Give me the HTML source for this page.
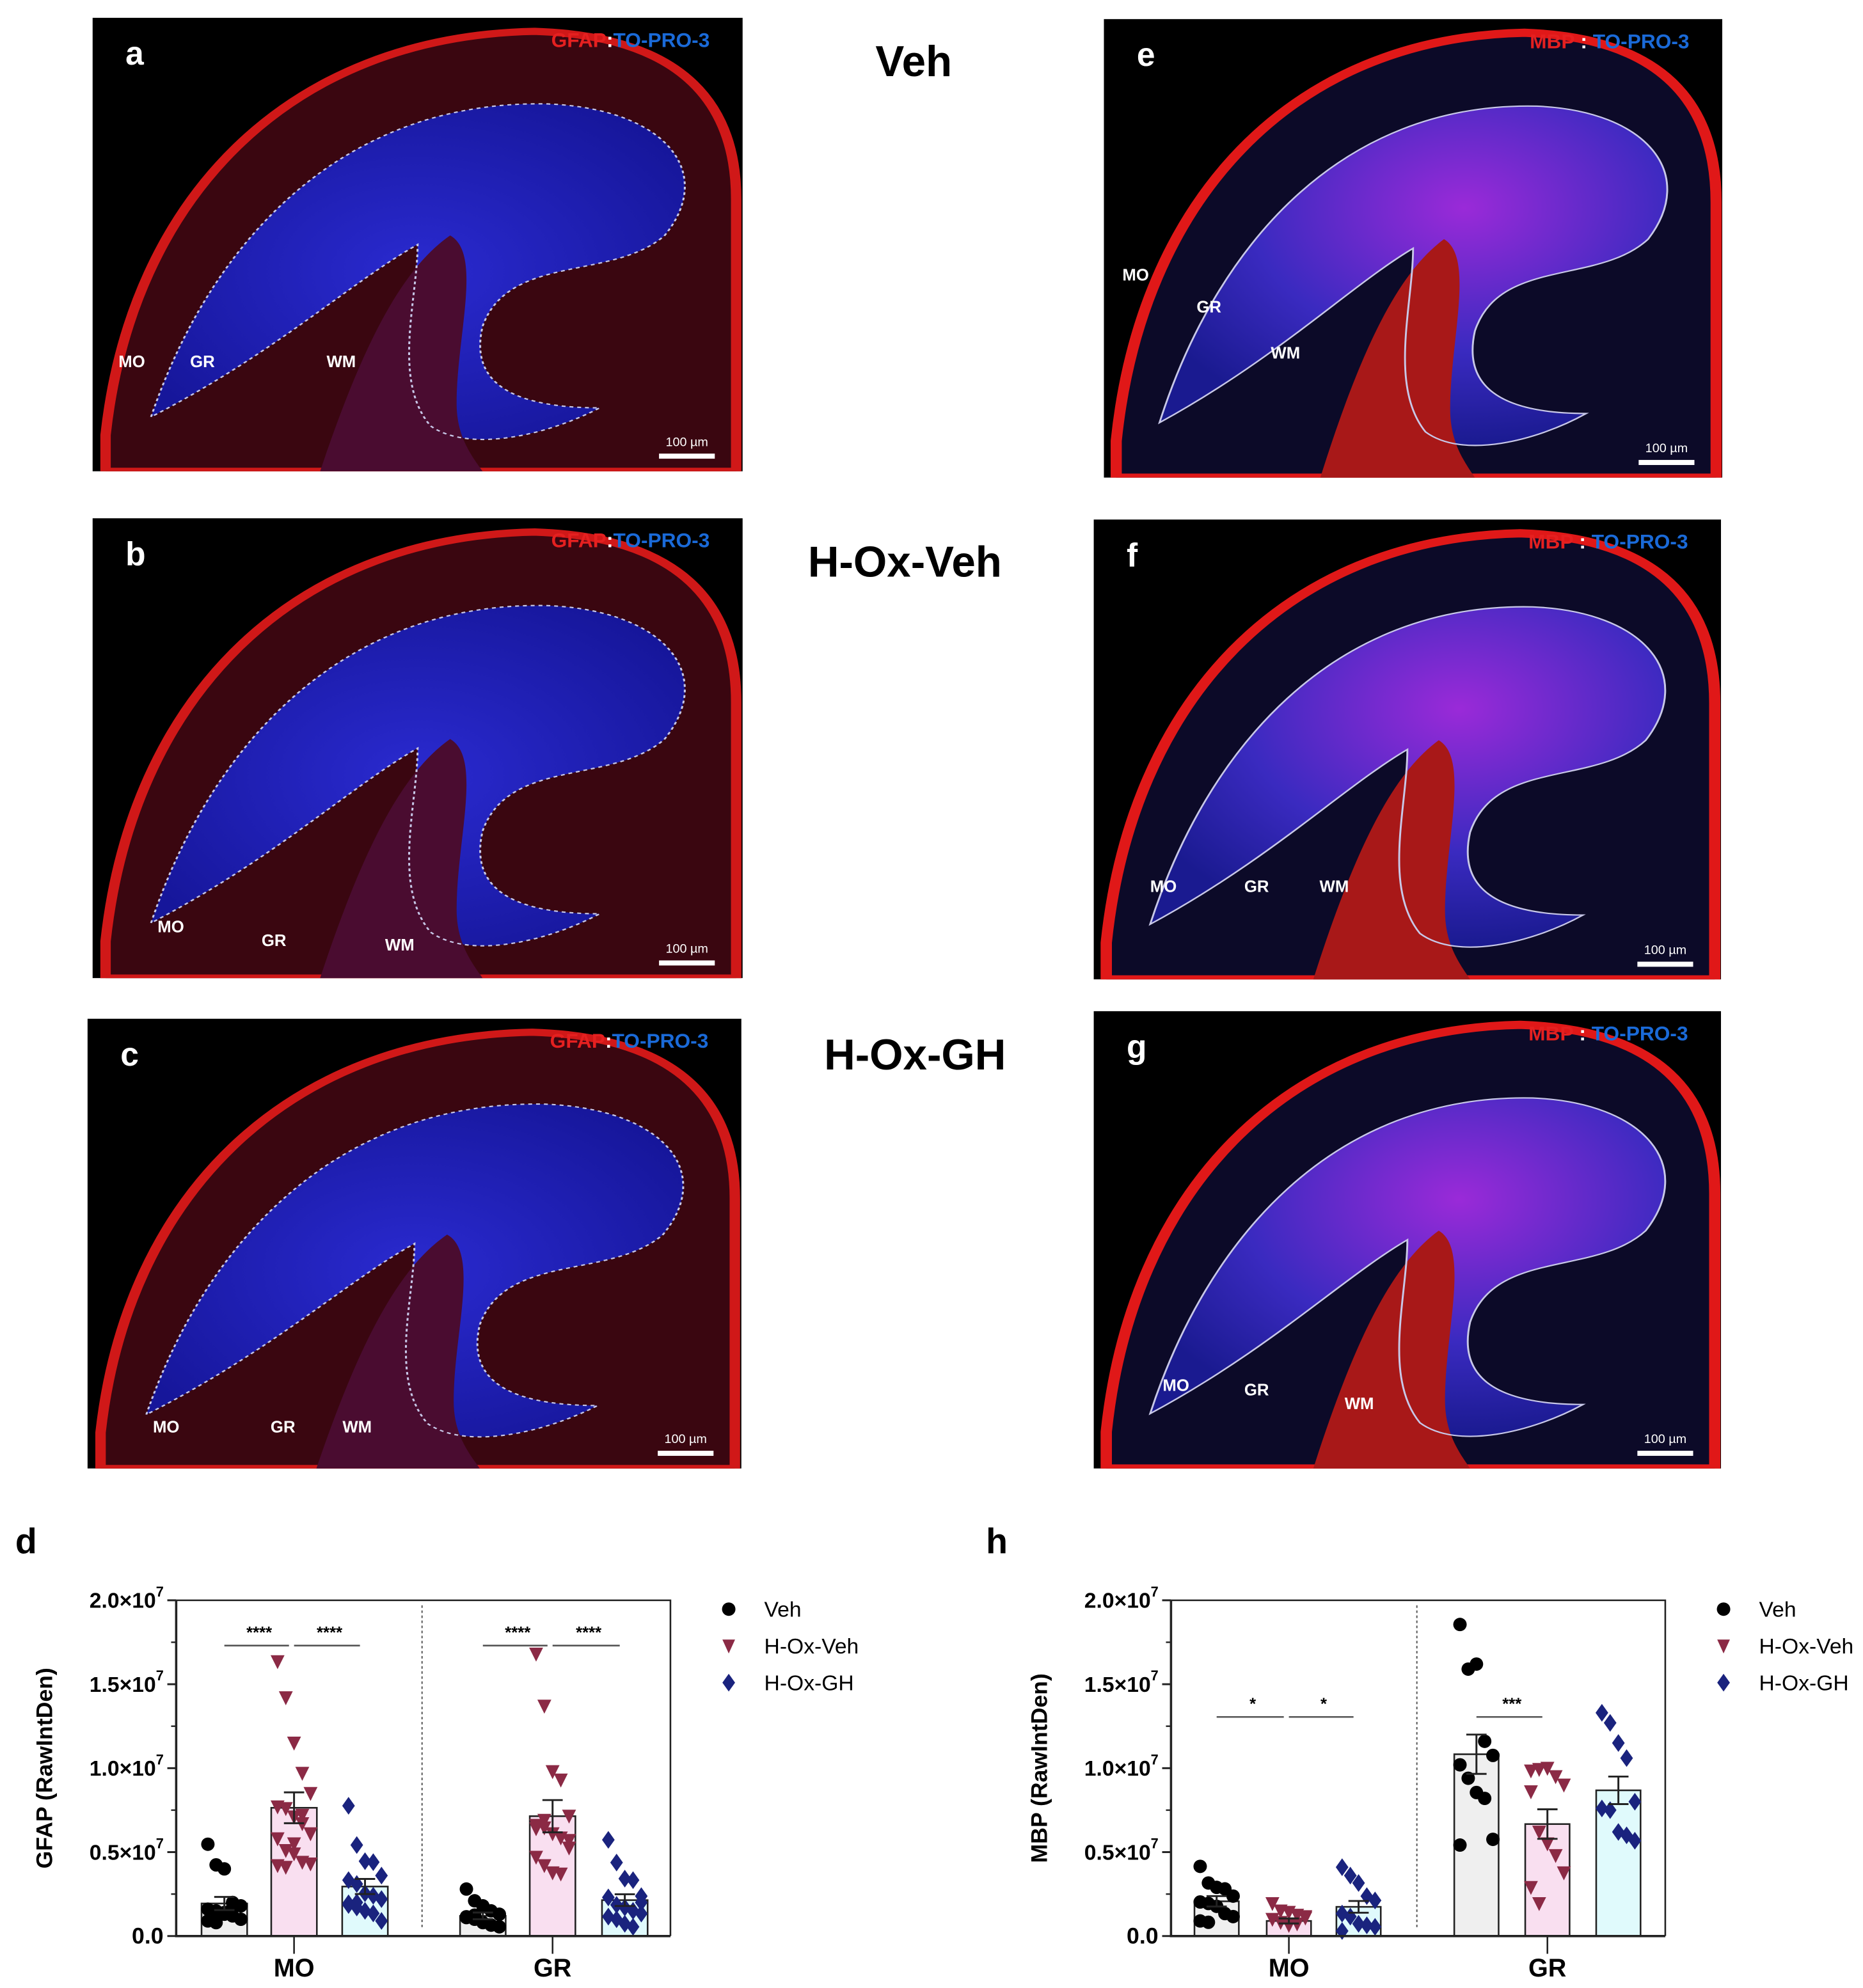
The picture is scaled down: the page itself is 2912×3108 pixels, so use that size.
<!DOCTYPE html>
<html><head><meta charset="utf-8"><style>
html,body{margin:0;padding:0;background:#fff}
svg{display:block}
text{font-family:"Liberation Sans",Arial,sans-serif}
</style></head><body>
<svg id="fig" xmlns="http://www.w3.org/2000/svg" width="2912" height="3108" viewBox="0 0 1470 1569">
<defs>
<radialGradient id="gfapBlue" cx="50%" cy="50%" r="60%"><stop offset="0" stop-color="#2a2ad0"/><stop offset="1" stop-color="#16169a"/></radialGradient>
<radialGradient id="mbpIn" cx="60%" cy="30%" r="70%"><stop offset="0" stop-color="#9a2ad8"/><stop offset="0.6" stop-color="#3a2ac0"/><stop offset="1" stop-color="#1a1a90"/></radialGradient>
</defs>
<g id="panels"></g>
<text x="721" y="60" font-size="34" font-weight="bold" text-anchor="middle">Veh</text>
<text x="714" y="455" font-size="34" font-weight="bold" text-anchor="middle">H-Ox-Veh</text>
<text x="722" y="844" font-size="34" font-weight="bold" text-anchor="middle">H-Ox-GH</text>
<text x="12" y="1226" font-size="28" font-weight="bold">d</text>
<text x="778" y="1226" font-size="28" font-weight="bold">h</text>
<g id="chartD"></g>
<g id="chartH"></g>
</svg>
<script>
// ---- chart data (units of 1e6 RawIntDen) ----
const groups = ["MO", "GR"];
const seriesNames = ["Veh", "H-Ox-Veh", "H-Ox-GH"];
const yTicks = [0, 5, 10, 15, 20];
const yTickLabels = ["0.0", "0.5×10", "1.0×10", "1.5×10", "2.0×10"];
const gfapMeans = [[1.94, 7.64, 2.95], [1.2, 7.14, 2.14]];
const gfapSem = [[0.39, 0.92, 0.45], [0.2, 0.96, 0.35]];
const gfapMOVeh = [5.47, 4.24, 4.0, 2.0, 1.8, 1.6, 1.5, 1.4, 1.2, 1.0, 0.9, 0.8, 1.3, 1.7];
const gfapMOHov = [16.35, 14.2, 11.5, 9.7, 8.5, 7.7, 7.6, 7.1, 6.7, 6.1, 5.8, 5.1, 4.9, 4.4, 4.3, 4.2, 4.1, 5.5, 7.2];
const gfapMOGh = [7.76, 5.42, 4.46, 4.4, 3.6, 3.33, 3.1, 2.55, 2.4, 2.2, 1.95, 1.7, 1.5, 1.35, 0.9, 1.85, 2.0];
const gfapGRVeh = [2.8, 2.1, 1.8, 1.5, 1.3, 1.15, 1.0, 0.8, 0.65, 0.55, 1.1, 1.25];
const gfapGRHov = [16.8, 13.7, 9.8, 9.3, 7.15, 6.6, 6.45, 6.1, 5.85, 5.25, 4.7, 4.2, 3.77, 3.7, 5.7, 6.4, 6.9];
const gfapGRGh = [5.73, 4.38, 3.42, 3.33, 2.38, 2.3, 1.86, 1.7, 1.5, 1.34, 1.16, 1.0, 0.73, 0.55, 2.0];
const mbpMeans = [[2.07, 0.9, 1.74], [10.83, 6.67, 8.68]];
const mbpSem = [[0.31, 0.15, 0.35], [1.17, 0.88, 0.82]];
const mbpMOVeh = [4.15, 3.16, 2.9, 2.81, 2.38, 2.03, 1.94, 1.77, 1.34, 1.16, 0.9, 0.82];
const mbpMOHov = [1.94, 1.5, 1.42, 1.25, 1.08, 1.0, 0.82, 0.64, 0.73, 1.16];
const mbpMOGh = [4.1, 3.6, 3.16, 2.38, 2.12, 1.34, 1.16, 0.73, 0.64, 0.55, 0.3];
const mbpGRVeh = [18.56, 15.9, 16.2, 11.6, 10.76, 10.2, 9.4, 8.55, 8.2, 5.76, 5.42];
const mbpGRHov = [9.84, 9.93, 10.0, 9.5, 9.0, 8.6, 6.2, 5.5, 4.8, 3.77, 2.9, 1.94];
const mbpGRGh = [13.3, 12.7, 11.5, 10.6, 8.0, 7.6, 7.5, 6.2, 6.0, 5.68];
const gfapSig = [["MO", 0, 1, "****", 17.3], ["MO", 1, 2, "****", 17.3], ["GR", 0, 1, "****", 17.3], ["GR", 1, 2, "****", 17.3]];
const mbpSig = [["MO", 0, 1, "*", 13.05], ["MO", 1, 2, "*", 13.05], ["GR", 0, 1, "***", 13.05]];

const NS = "http://www.w3.org/2000/svg";
function mk(parent, tag, attrs, txt) {
  const e = document.createElementNS(NS, tag);
  for (const k in attrs) e.setAttribute(k, attrs[k]);
  if (txt !== undefined) e.textContent = txt;
  parent.appendChild(e);
  return e;
}
const fills = ["#efefef", "#f9dff0", "#e0fafc"];
const mcol = ["#000", "#8b2a45", "#1a237e"];

function drawChart(g, cfg) {
  const y = v => cfg.bottom - (v / 20) * (cfg.bottom - cfg.top);
  const barX = (gi, si) => cfg.barCenters[gi][si];
  cfg.means.forEach((row, gi) => row.forEach((m, si) => {
    const cx = barX(gi, si);
    const r = mk(g, "rect", {x: cx - cfg.bw / 2, y: y(m), width: cfg.bw, height: y(0) - y(m), fill: fills[si], stroke: "#222", "stroke-width": 1.3});
    
    
  }));
  cfg.points.forEach((row, gi) => row.forEach((pts, si) => {
    const cx = barX(gi, si);
    pts.forEach((v, i) => {
      const off = ((i % 5) - 2) * 6.5;
      const px = cx + off, py = y(v);
      let el;
      if (si === 0) el = mk(g, "circle", {cx: px, cy: py, r: 5.3, fill: mcol[0]});
      else if (si === 1) el = mk(g, "path", {d: `M${px-5.5},${py-5} L${px+5.5},${py-5} L${px},${py+6}Z`, fill: mcol[1]});
      else el = mk(g, "path", {d: `M${px},${py-7} L${px+5},${py} L${px},${py+7} L${px-5},${py}Z`, fill: mcol[2]});
      
      
    });
  }));
  cfg.means.forEach((row, gi) => row.forEach((m, si) => {
    const cx = barX(gi, si), s = cfg.sem[gi][si];
    const e = mk(g, "path", {d: `M${cx},${y(m - s)} V${y(m + s)} M${cx-8},${y(m + s)} H${cx+8} M${cx-8},${y(m - s)} H${cx+8}`, stroke: "#222", "stroke-width": 1.5, fill: "none"});
    
    
  }));
  mk(g, "path", {d: `M${cfg.left},${cfg.top} H${cfg.right} V${cfg.bottom}`, stroke: "#222", "stroke-width": 1.3, fill: "none"});
  const ax = mk(g, "path", {d: `M${cfg.left},${cfg.top} V${cfg.bottom} H${cfg.right}`, stroke: "#222", "stroke-width": 1.8, fill: "none"});
  
  
  mk(g, "line", {x1: cfg.divider, x2: cfg.divider, y1: cfg.top + 4, y2: cfg.bottom - 6, stroke: "#555", "stroke-width": 1, "stroke-dasharray": "2,2"});
  yTicks.forEach((t, i) => {
    mk(g, "line", {x1: cfg.left - 7, x2: cfg.left, y1: y(t), y2: y(t), stroke: "#222", "stroke-width": 1.5});
    if (i < yTicks.length - 1) mk(g, "line", {x1: cfg.left - 4, x2: cfg.left, y1: y(t + 2.5), y2: y(t + 2.5), stroke: "#222", "stroke-width": 1.2});
    const tx = mk(g, "text", {x: cfg.left - (i === 0 ? 10 : 16), y: y(t) + 6, "font-size": i === 0 ? 18 : 17, "font-weight": "bold", "text-anchor": "end"}, yTickLabels[i]);
    
    
    if (i > 0) mk(g, "text", {x: cfg.left - 16, y: y(t) - 3, "font-size": 11, "font-weight": "bold"}, "7");
  });
  groups.forEach((gname, gi) => {
    const tx0 = cfg.barCenters[gi][1];
    mk(g, "line", {x1: tx0, x2: tx0, y1: cfg.bottom, y2: cfg.bottom + 14, stroke: "#222", "stroke-width": 1.3});
    const t = mk(g, "text", {x: tx0, y: cfg.bottom + 32, "font-size": 20, "font-weight": "bold", "text-anchor": "middle"}, gname);
    
    
  });
  const yt = mk(g, "text", {x: 0, y: 0, "font-size": 18, "font-weight": "bold", "text-anchor": "middle", transform: `translate(${cfg.left - 98},${(cfg.top + cfg.bottom) / 2}) rotate(-90)`}, cfg.title);
  
  
  cfg.sig.forEach(s => {
    const gi = groups.indexOf(s[0]);
    const x1 = barX(gi, s[1]), x2 = barX(gi, s[2]);
    const yy = y(s[4]);
    mk(g, "line", {x1: x1, x2: x2 - 4, y1: yy, y2: yy, stroke: "#555", "stroke-width": 1.3});
    mk(g, "text", {x: (x1 + x2) / 2, y: yy - 6, "font-size": 13, "font-weight": "bold", "text-anchor": "middle"}, s[3]);
  });
  seriesNames.forEach((n, i) => {
    const ly = cfg.legY + i * 29, lx = cfg.legX;
    if (i === 0) mk(g, "circle", {cx: lx, cy: ly, r: 5.3, fill: mcol[0]});
    else if (i === 1) mk(g, "path", {d: `M${lx-5},${ly-5} L${lx+5},${ly-5} L${lx},${ly+6}Z`, fill: mcol[1]});
    else mk(g, "path", {d: `M${lx},${ly-7} L${lx+5},${ly} L${lx},${ly+7} L${lx-5},${ly}Z`, fill: mcol[2]});
    const t = mk(g, "text", {x: lx + 28, y: ly + 6, "font-size": 17}, n);
    
    
  });
}

drawChart(document.getElementById("chartD"), {
  left: 139, right: 529, top: 1263, bottom: 1528, divider: 333, bw: 36,
  barCenters: [[177, 232, 288], [381, 436, 493]],
  means: gfapMeans, sem: gfapSem,
  points: [[gfapMOVeh, gfapMOHov, gfapMOGh], [gfapGRVeh, gfapGRHov, gfapGRGh]],
  title: "GFAP (RawIntDen)", sig: gfapSig, legX: 575, legY: 1270
});
drawChart(document.getElementById("chartH"), {
  left: 924, right: 1314, top: 1263, bottom: 1528, divider: 1118, bw: 35,
  barCenters: [[960, 1017, 1072], [1165, 1221, 1277]],
  means: mbpMeans, sem: mbpSem,
  points: [[mbpMOVeh, mbpMOHov, mbpMOGh], [mbpGRVeh, mbpGRHov, mbpGRGh]],
  title: "MBP (RawIntDen)", sig: mbpSig, legX: 1360, legY: 1270
});

// ---- micrograph panels ----
const panelsG = document.getElementById("panels");
const panels = [
  {id:"a", x:73, y:14, w:513, h:358, type:"gfap", labs:[["MO",4,77],["GR",15,77],["WM",36,77]]},
  {id:"b", x:73, y:409, w:513, h:363, type:"gfap", labs:[["MO",10,90],["GR",26,93],["WM",45,94]]},
  {id:"c", x:69, y:804, w:516, h:355, type:"gfap", labs:[["MO",10,92],["GR",28,92],["WM",39,92]]},
  {id:"e", x:871, y:15, w:488, h:362, type:"mbp", labs:[["MO",3,57],["GR",15,64],["WM",27,74]]},
  {id:"f", x:863, y:410, w:495, h:363, type:"mbp", labs:[["MO",9,81],["GR",24,81],["WM",36,81]]},
  {id:"g", x:863, y:798, w:495, h:361, type:"mbp", labs:[["MO",11,83],["GR",24,84],["WM",40,87]]}
];
panels.forEach(p => {
  const s = mk(panelsG, "svg", {x: p.x, y: p.y, width: p.w, height: p.h, viewBox: "0 0 100 100", preserveAspectRatio: "none"});
  
  
  mk(s, "rect", {x: 0, y: 0, width: 100, height: 100, fill: "#000"});
  const outer = "M2,92 C6,40 30,4 68,3 C90,4 99,18 99,40 L99,100 L2,100Z";
  const inner = "M9,88 C18,50 38,18 70,19 C88,20 96,34 88,48 C80,58 64,52 60,68 C58,80 64,86 78,86 C70,92 58,96 52,90 C46,80 50,62 50,50 C40,58 28,74 9,88Z";
  const wm = "M35,100 C42,70 48,55 55,48 C60,52 56,70 56,85 C56,92 58,96 60,100Z";
  if (p.type === "gfap") {
    mk(s, "path", {d: outer, fill: "#3a0610"});
    mk(s, "path", {d: outer, fill: "none", stroke: "#d01818", "stroke-width": 1.6});
    mk(s, "path", {d: inner, fill: "url(#gfapBlue)"});
    mk(s, "path", {d: wm, fill: "#4a0c30"});
    mk(s, "path", {d: inner, fill: "none", stroke: "#c8c8e8", "stroke-width": 0.3, "stroke-dasharray": "0.6,0.6"});
  } else {
    mk(s, "path", {d: outer, fill: "#0c0a28"});
    mk(s, "path", {d: outer, fill: "none", stroke: "#e01818", "stroke-width": 1.8});
    mk(s, "path", {d: inner, fill: "url(#mbpIn)"});
    mk(s, "path", {d: wm, fill: "#a81818"});
    mk(s, "path", {d: inner, fill: "none", stroke: "#c8c8e8", "stroke-width": 0.3});
  }
  const L = mk(panelsG, "text", {x: p.x + 26, y: p.y + 37, "font-size": 26, "font-weight": "bold", fill: "#fff"}, p.id);
  
  
  const st = mk(panelsG, "text", {x: p.x + p.w - 26, y: p.y + 23, "font-size": 16, "font-weight": "bold", "text-anchor": "end"});
  
  
  mk(st, "tspan", {fill: "#e52020"}, p.type === "gfap" ? "GFAP" : "MBP");
  mk(st, "tspan", {fill: "#fff"}, p.type === "gfap" ? ":" : " : ");
  mk(st, "tspan", {fill: "#1a6ad8"}, "TO-PRO-3");
  p.labs.forEach(l => {
    const t = mk(panelsG, "text", {x: p.x + p.w * l[1] / 100, y: p.y + p.h * l[2] / 100, "font-size": 13, "font-weight": "bold", fill: "#fff"}, l[0]);
    
    
  });
  mk(panelsG, "rect", {x: p.x + p.w - 66, y: p.y + p.h - 14, width: 44, height: 4, fill: "#fff"});
  mk(panelsG, "text", {x: p.x + p.w - 44, y: p.y + p.h - 20, "font-size": 10, fill: "#fff", "text-anchor": "middle"}, "100 µm");
});
</script>
</body></html>
